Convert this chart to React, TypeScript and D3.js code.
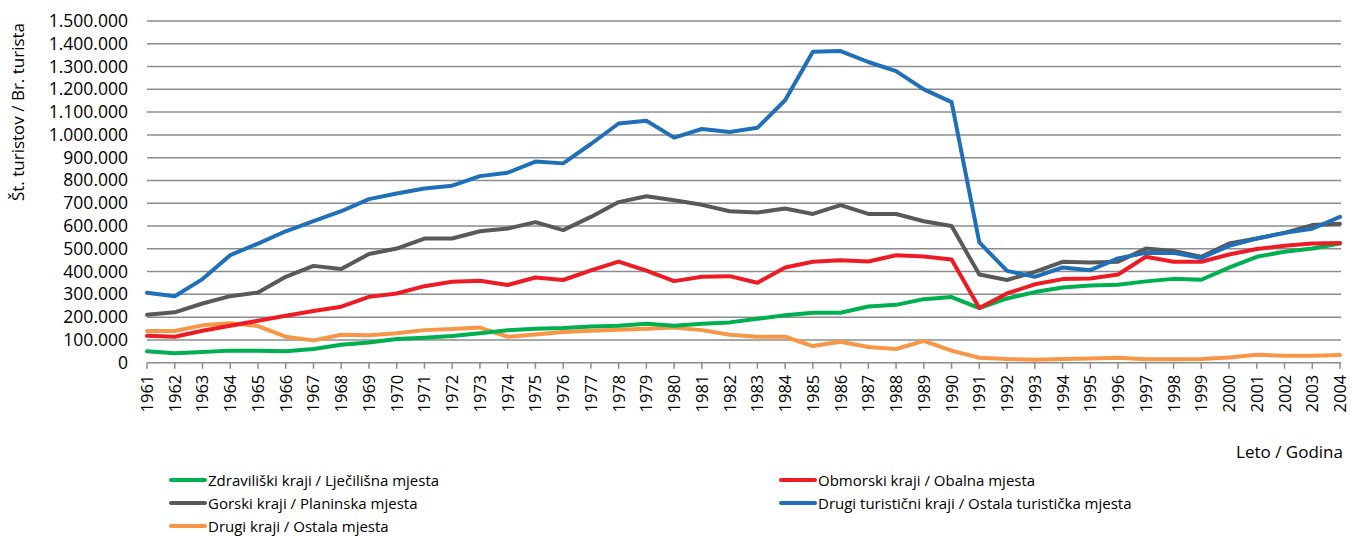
import React from "react";
import * as d3 from "d3";

const years = d3.range(1961, 2005).map(String);

const zdravilisko = [50000,41000,47000,53000,53000,50000,60000,79000,89000,104000,110000,117000,129000,142000,149000,152000,159000,162000,171000,162000,171000,177000,193000,208000,219000,219000,247000,254000,279000,288000,240000,282000,310000,330000,339000,342000,357000,368000,364000,417000,465000,487000,501000,523000];
const obmorski = [118000,114000,140000,162000,184000,206000,227000,246000,289000,304000,336000,355000,360000,341000,374000,363000,405000,444000,404000,358000,377000,380000,351000,418000,443000,450000,444000,472000,466000,453000,240000,304000,344000,367000,370000,387000,465000,443000,443000,475000,499000,513000,523000,526000];
const gorski = [210000,221000,260000,292000,308000,377000,425000,411000,477000,501000,545000,545000,577000,589000,617000,582000,640000,705000,731000,713000,693000,665000,659000,677000,653000,692000,653000,653000,621000,600000,387000,363000,399000,443000,440000,443000,501000,490000,465000,523000,545000,570000,604000,610000];
const drugiTuristicni = [307000,292000,367000,472000,523000,577000,621000,665000,718000,743000,765000,777000,819000,834000,883000,875000,960000,1050000,1062000,988000,1026000,1013000,1031000,1152000,1365000,1368000,1320000,1280000,1200000,1144000,528000,403000,377000,418000,406000,458000,482000,482000,460000,513000,545000,570000,588000,640000];
const drugi = [139000,139000,164000,173000,161000,114000,98000,123000,120000,129000,143000,148000,154000,114000,124000,135000,140000,145000,149000,154000,143000,123000,114000,114000,73000,92000,69000,60000,96000,53000,22000,16000,13000,16000,18000,22000,15000,15000,16000,23000,35000,31000,31000,34000];

const yTicks = d3.range(0, 1500001, 100000);

const seriesNames = [
  "Zdraviliški kraji / Lječilišna mjesta",
  "Obmorski kraji / Obalna mjesta",
  "Gorski kraji / Planinska mjesta",
  "Drugi turistični kraji / Ostala turistička mjesta",
  "Drugi kraji / Ostala mjesta",
];
const seriesColors = ["#00b050", "#ed1c24", "#595959", "#1f70b8", "#f79646"];
const seriesValues = [zdravilisko, obmorski, gorski, drugiTuristicni, drugi];

const yAxisTitle = "Št. turistov / Br. turista";
const xAxisTitle = "Leto / Godina";

const locale = d3.formatLocale({ decimal: ",", thousands: ".", grouping: [3], currency: ["", ""] });
const fmt = locale.format(",");

export default function App() {
  const W = 1351, H = 536;
  const x = d3.scalePoint<string>().domain(years).range([147, 1340]);
  const y = d3.scaleLinear().domain([0, 1500000]).range([362.7, 21]);
  const line = d3.line<number>().x((_, i) => x(years[i]) as number).y((d) => y(d));
  const font = "'Open Sans', 'Noto Sans', sans-serif";
  const drawOrder = [4, 0, 2, 1, 3];
  const legendPos = [
    { lx: 171, ly: 480 },
    { lx: 781, ly: 480 },
    { lx: 171, ly: 503 },
    { lx: 781, ly: 503 },
    { lx: 171, ly: 526 },
  ];
  const legendOrder = [0, 1, 2, 3, 4];
  return (
    <svg width={W} height={H} style={{ position: "absolute", left: 0, top: 0 }} fontFamily={font}>
      <rect width={W} height={H} fill="#fff" />
      {yTicks.map((t) => (
        <g key={t}>
          <line x1={147} x2={1341} y1={y(t)} y2={y(t)} stroke="#8c8c8c" strokeWidth={1.5} />
          <text x={128} y={y(t) + 6} textAnchor="end" fontSize={17.5} fill="#000">{fmt(t)}</text>
        </g>
      ))}
      {years.map((yr) => (
        <g key={yr}>
          <line x1={x(yr)} x2={x(yr)} y1={y(0)} y2={y(0) + 6} stroke="#8c8c8c" strokeWidth={1.5} />
          <text transform={`translate(${(x(yr) as number) + 6},${y(0) + 12}) rotate(-90)`} textAnchor="end" fontSize={16.5} fill="#000">{yr}</text>
        </g>
      ))}
      <text transform={`translate(24,112) rotate(-90)`} textAnchor="middle" fontSize={17} fill="#000">{yAxisTitle}</text>
      <text x={1343} y={458} textAnchor="end" fontSize={17} fill="#000">{xAxisTitle}</text>
      {drawOrder.map((s) => (
        <path key={s} d={line(seriesValues[s]) || ""} fill="none" stroke={seriesColors[s]} strokeWidth={4} strokeLinejoin="round" strokeLinecap="round" />
      ))}
      {legendOrder.map((s) => {
        const p = legendPos[s];
        return (
          <g key={s}>
            <line x1={p.lx} x2={p.lx + 34} y1={p.ly} y2={p.ly} stroke={seriesColors[s]} strokeWidth={4} strokeLinecap="round" />
            <text x={p.lx + 37} y={p.ly + 5.5} fontSize={15} fill="#000">{seriesNames[s]}</text>
          </g>
        );
      })}
    </svg>
  );
}
